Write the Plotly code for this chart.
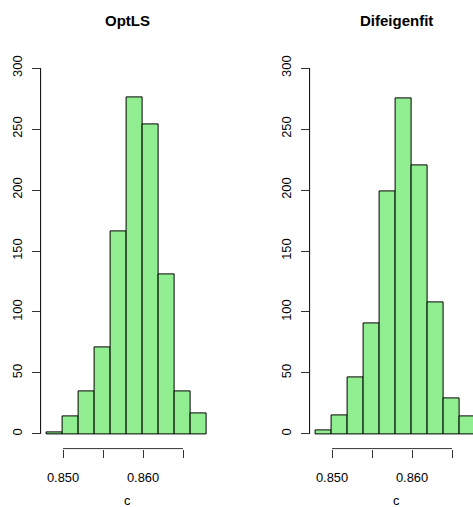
import plotly.graph_objects as go

# Histogram bins (width 0.002) and counts for each fit method
bin_edges = [0.848, 0.850, 0.852, 0.854, 0.856, 0.858, 0.860, 0.862, 0.864, 0.866, 0.868]
optls_counts = [1, 14, 35, 71, 166, 276, 254, 131, 35, 17]
difeigen_counts = [3, 15, 46, 91, 199, 275, 220, 108, 29, 14]
panel_titles = ["OptLS", "Difeigenfit"]
x_label = "c"
y_ticks = [0, 50, 100, 150, 200, 250, 300]
x_ticks = [0.850, 0.855, 0.860, 0.865]
x_ticktext = ["0.850", "", "0.860", ""]

W, H = 473, 507
FONT = "Liberation Sans, Arial, sans-serif"

centers = [(a + b) / 2 for a, b in zip(bin_edges[:-1], bin_edges[1:])]
widths = [b - a for a, b in zip(bin_edges[:-1], bin_edges[1:])]

# plot regions in pixels
y_top_px, y_bot_px = 53.4, 448.6
ylim = (-12, 312)
px_per_x = 8000.0  # pixels per unit of c
x0 = 0.8472
full_w = 173.8     # width of a full plot region in pixels
panels = [
    dict(left=40.6, right=214.4),
    dict(left=309.6, right=473.0),
]

fig = go.Figure()
for i, (counts, title) in enumerate(zip([optls_counts, difeigen_counts], panel_titles)):
    p = panels[i]
    xa = "x" if i == 0 else "x2"
    ya = "y" if i == 0 else "y2"
    fig.add_trace(go.Bar(
        x=centers, y=counts, width=widths,
        marker=dict(color="#90EE90", line=dict(color="black", width=1)),
        xaxis=xa, yaxis=ya, showlegend=False,
    ))
    x1 = x0 + (p["right"] - p["left"]) / px_per_x
    ax_common = dict(
        showgrid=False, zeroline=False, showline=False,
        ticks="outside", ticklen=8, tickwidth=1, tickcolor="#333",
        tickfont=dict(family=FONT, size=12.9, color="black"),
    )
    xkey = "xaxis" if i == 0 else "xaxis2"
    ykey = "yaxis" if i == 0 else "yaxis2"
    fig.update_layout(**{
        xkey: dict(ax_common, domain=[p["left"] / W, p["right"] / W], range=[x0, x1],
                   tickvals=x_ticks, ticktext=x_ticktext, anchor=ya, ticklabelstandoff=9),
        ykey: dict(ax_common, domain=[1 - y_bot_px / H, 1 - y_top_px / H], range=list(ylim),
                   tickvals=y_ticks, ticktext=[str(v) for v in y_ticks], tickangle=-90,
                   anchor=xa, ticklabelstandoff=4),
    })
    # R-style axis lines spanning first to last tick
    fig.add_shape(type="line", xref=xa, yref="paper",
                  x0=x_ticks[0], x1=x_ticks[-1], y0=1 - y_bot_px / H, y1=1 - y_bot_px / H,
                  line=dict(color="#333", width=1))
    fig.add_shape(type="line", xref="paper", yref=ya,
                  x0=p["left"] / W, x1=p["left"] / W, y0=y_ticks[0], y1=y_ticks[-1],
                  line=dict(color="black", width=1))
    cx = (p["left"] + full_w / 2) / W
    fig.add_annotation(text="<b>%s</b>" % title, xref="paper", yref="paper",
                       x=cx, y=1 - 21 / H, xanchor="center", yanchor="middle",
                       showarrow=False, font=dict(family=FONT, size=15, color="black"))
    fig.add_annotation(text=x_label, xref="paper", yref="paper",
                       x=cx, y=1 - 500 / H, xanchor="center", yanchor="middle",
                       borderpad=0, showarrow=False,
                       font=dict(family=FONT, size=12.9, color="black"))

fig.update_layout(
    width=W, height=H, margin=dict(l=0, r=0, t=0, b=0),
    paper_bgcolor="white", plot_bgcolor="white", bargap=0,
)
fig.write_html("out.html")
